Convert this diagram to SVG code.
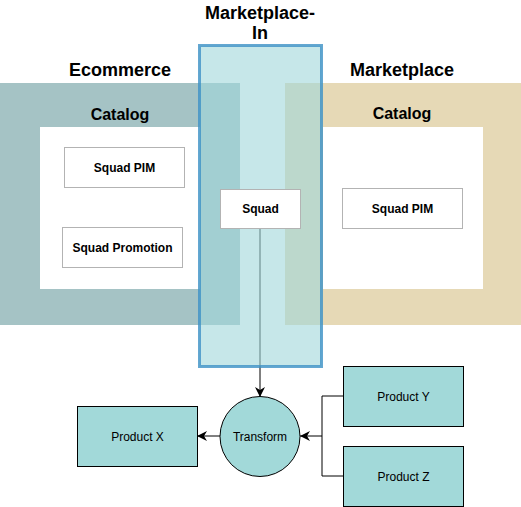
<svg xmlns="http://www.w3.org/2000/svg" width="521" height="507" viewBox="0 0 521 507">
  <defs>
    <marker id="arr" viewBox="0 0 10 10" refX="10" refY="5" markerWidth="10" markerHeight="10" markerUnits="userSpaceOnUse" orient="auto">
      <path d="M0,0 L10,5 L0,10 L3,5 Z" fill="#000"/>
    </marker>
  </defs>
  <style>
    .title { font-family: "Liberation Sans", Arial, sans-serif; font-weight: bold; font-size: 18px; fill: #000; text-anchor: middle; }
    .sub { font-family: "Liberation Sans", Arial, sans-serif; font-weight: bold; font-size: 16px; fill: #000; text-anchor: middle; }
    .box { fill: #ffffff; stroke: #b3b3b3; stroke-width: 1; }
    .boxt { font-family: "Liberation Sans", Arial, sans-serif; font-weight: bold; font-size: 12px; fill: #000; text-anchor: middle; }
    .prod { fill: #a2d9d9; stroke: #000; stroke-width: 1; }
    .prodt { font-family: "Liberation Sans", Arial, sans-serif; font-size: 12px; fill: #000; text-anchor: middle; }
    .edge { fill: none; stroke: #000; stroke-width: 1; }
  </style>

  <g id="ecommerce">
    <path d="M0,83 H240 V325 H0 Z M40,127 V289 H200 V127 Z" fill="#a5c3c5" fill-rule="evenodd"/>
    <text class="title" x="120" y="76">Ecommerce</text>
    <text class="sub" x="120" y="120">Catalog</text>
  </g>

  <g id="marketplace">
    <path d="M285,83 H521 V325 H285 Z M323,127 V289 H483 V127 Z" fill="#e6d9b6" fill-rule="evenodd"/>
    <text class="title" x="402" y="76">Marketplace</text>
    <text class="sub" x="402" y="119">Catalog</text>
  </g>

  <g id="connectors">
    <line class="edge" x1="260" y1="229" x2="260" y2="397" marker-end="url(#arr)"/>
    <line class="edge" x1="220" y1="436" x2="197" y2="436" marker-end="url(#arr)"/>
    <polyline class="edge" points="343,396 322,396 322,436 300,436" marker-end="url(#arr)"/>
    <polyline class="edge" points="343,476 322,476 322,436"/>
  </g>

  <g id="marketplace-in">
    <rect x="199.5" y="45.5" width="122" height="321" fill="#a0d7da" fill-opacity="0.6" stroke="#3d91c6" stroke-opacity="0.8" stroke-width="3"/>
    <text class="title" x="260" y="19">Marketplace-</text>
    <text class="title" x="260" y="39">In</text>
  </g>

  <g id="squad-pim-left">
    <rect class="box" x="64.5" y="147.5" width="120" height="40"/>
    <text class="boxt" x="124.5" y="171.5">Squad PIM</text>
  </g>
  <g id="squad-promotion">
    <rect class="box" x="62.5" y="227.5" width="120" height="40"/>
    <text class="boxt" x="122.5" y="251.5">Squad Promotion</text>
  </g>
  <g id="squad">
    <rect class="box" x="220.5" y="189.5" width="80" height="39"/>
    <text class="boxt" x="260.5" y="213">Squad</text>
  </g>
  <g id="squad-pim-right">
    <rect class="box" x="342.5" y="188.5" width="120" height="40"/>
    <text class="boxt" x="402.5" y="212.5">Squad PIM</text>
  </g>

  <g id="transform">
    <circle class="prod" cx="260" cy="436.5" r="40"/>
    <text class="prodt" x="260" y="440.5">Transform</text>
  </g>
  <g id="product-x">
    <rect class="prod" x="77.5" y="406.5" width="120" height="60"/>
    <text class="prodt" x="137.5" y="440.5">Product X</text>
  </g>
  <g id="product-y">
    <rect class="prod" x="343.5" y="366.5" width="120" height="60"/>
    <text class="prodt" x="403.5" y="400.5">Product Y</text>
  </g>
  <g id="product-z">
    <rect class="prod" x="343.5" y="446.5" width="120" height="60"/>
    <text class="prodt" x="403.5" y="480.5">Product Z</text>
  </g>
</svg>
